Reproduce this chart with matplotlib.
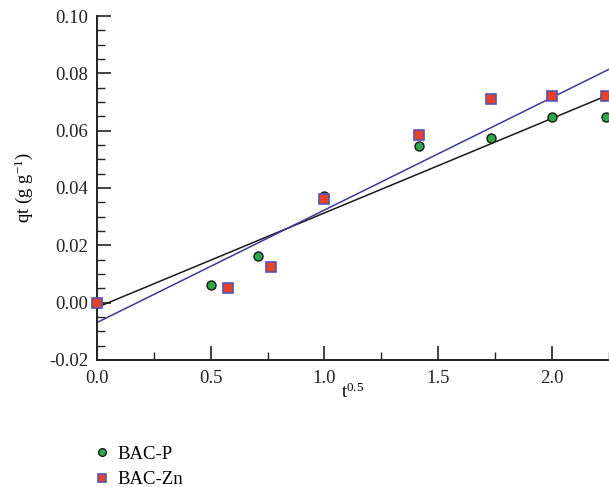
import numpy as np
import matplotlib.pyplot as plt
from matplotlib.ticker import MultipleLocator, FormatStrFormatter

plt.rcParams['font.family'] = ['Liberation Serif', 'DejaVu Serif']
plt.rcParams['mathtext.fontset'] = 'stix'

# data
x_p = [0.0, 0.5, 0.707, 1.0, 1.414, 1.732, 2.0, 2.236]
y_p = [0.0, 0.0062, 0.0162, 0.0373, 0.0548, 0.0573, 0.0648, 0.0648]
x_zn = [0.0, 0.577, 0.764, 1.0, 1.414, 1.732, 2.0, 2.236]
y_zn = [0.0, 0.0050, 0.0125, 0.0361, 0.0585, 0.0711, 0.0722, 0.0722]

# fitted lines (intercept, slope)
fit_p = (-0.0017, 0.0330)
fit_zn = (-0.0070, 0.0393)

fs = 13.5

fig = plt.figure(figsize=(6.09, 4.87), dpi=100)
ax = fig.add_axes([0.159, 0.261, 0.841, 0.706])

xx = np.array([0.0, 2.25])
ax.plot(xx, fit_p[0] + fit_p[1]*xx, color='#1a1a1a', lw=1.1, zorder=2)
ax.plot(xx, fit_zn[0] + fit_zn[1]*xx, color='#3a3a9e', lw=1.1, zorder=2)

ax.plot(x_p, y_p, 'o', ms=6.5, mfc='#2ca84a', mec='#1a1a1a', mew=1.0,
        label='BAC-P', zorder=3, clip_on=False)
ax.plot(x_zn, y_zn, 's', ms=6.5, mfc='#e8402a', mec='#5555b0', mew=1.2,
        label='BAC-Zn', zorder=4, clip_on=False)

ax.set_xlim(0, 2.25)
ax.set_ylim(-0.02, 0.10)
ax.xaxis.set_major_locator(MultipleLocator(0.5))
ax.xaxis.set_minor_locator(MultipleLocator(0.25))
ax.yaxis.set_major_locator(MultipleLocator(0.02))
ax.yaxis.set_minor_locator(MultipleLocator(0.005))
ax.xaxis.set_major_formatter(FormatStrFormatter('%.1f'))
ax.yaxis.set_major_formatter(FormatStrFormatter('%.2f'))

for s in ['top', 'right']:
    ax.spines[s].set_visible(False)
for s in ['left', 'bottom']:
    ax.spines[s].set_linewidth(1.4)
    ax.spines[s].set_color('#222222')

ax.tick_params(which='major', direction='in', length=10, width=1.2,
               labelsize=fs, colors='#222222', pad=7)
ax.tick_params(which='minor', direction='in', length=5.5, width=1.0,
               colors='#222222')
ax.tick_params(axis='y', which='major', pad=6)

ax.set_xlabel(r'$\mathregular{t^{0.5}}$', fontsize=fs, labelpad=-3)
ax.set_ylabel(r'qt (g g$\mathregular{^{-1}}$)', fontsize=fs, labelpad=10)

fig.legend(loc='upper left', bbox_to_anchor=(0.137, 0.104),
           frameon=False, fontsize=fs, handletextpad=0.3, labelspacing=0.45,
           handlelength=1.0, borderpad=0.0, markerscale=0.85)

fig.savefig('out.png', dpi=100)
